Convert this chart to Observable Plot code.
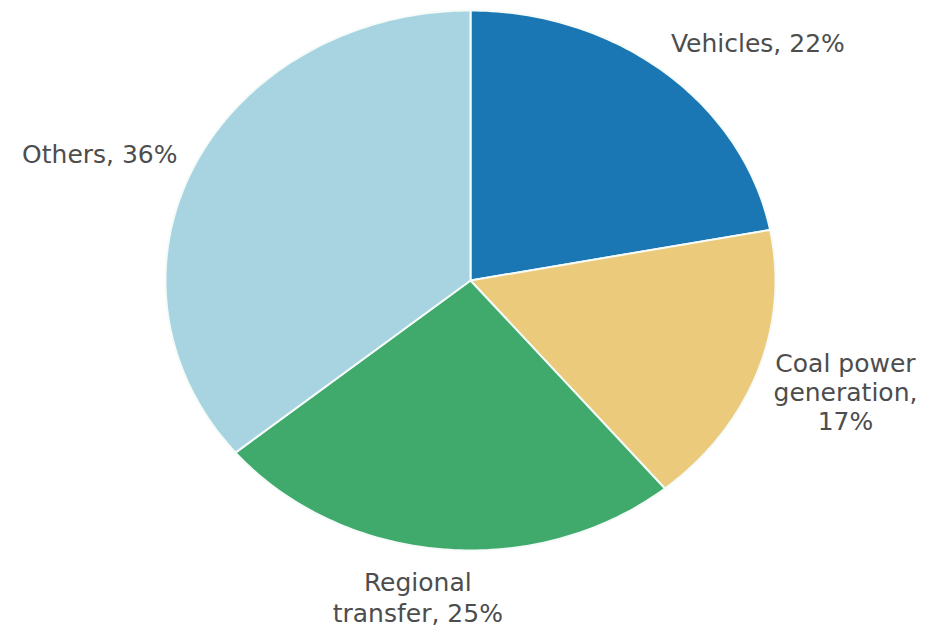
<!DOCTYPE html>
<html>
<head>
<meta charset="utf-8">
<script src="https://cdn.jsdelivr.net/npm/d3@7"></script>
<script src="https://cdn.jsdelivr.net/npm/@observablehq/plot@0.6"></script>
<style>
  html, body { margin: 0; padding: 0; background: #ffffff; }
  #chart { width: 925px; height: 630px; }
</style>
</head>
<body>
<div id="chart"></div>
<script>
// ---- Data ----
const categories = ["Vehicles", "Coal power generation", "Regional transfer", "Others"];
const shares = [22, 17, 25, 36];
const labels = ["Vehicles, 22%", "Coal power\ngeneration,\n17%", "Regional\ntransfer, 25%", "Others, 36%"];
const colors = ["#1b77b3", "#ecca7c", "#40a96c", "#a8d4e2"];

// ---- Geometry from data (angles clockwise from 12 o'clock) ----
const total = d3.sum(shares);
let acc = 0;
const slices = categories.map((name, i) => {
  const a0 = acc / total * 2 * Math.PI;
  acc += shares[i];
  const a1 = acc / total * 2 * Math.PI;
  return {name, a0, a1, mid: (a0 + a1) / 2, label: labels[i], color: colors[i]};
});

const outline = [];
for (const s of slices) {
  outline.push({name: s.name, x: 0, y: 0});
  const n = Math.max(2, Math.ceil((s.a1 - s.a0) / (Math.PI / 180)));
  for (let k = 0; k <= n; k++) {
    const a = s.a0 + (s.a1 - s.a0) * k / n;
    outline.push({name: s.name, x: Math.sin(a), y: Math.cos(a)});
  }
}

// label layout (pixel nudges from the slice's outer mid point)
const labelLayout = {
  "Vehicles":              {anchor: "start",  dx: 6,   dy: -30, lh: 1.2},
  "Coal power generation": {anchor: "middle", dx: 88,  dy: 20,  lh: 1.16},
  "Regional transfer":     {anchor: "middle", dx: -24, dy: 47,  lh: 1.24},
  "Others":                {anchor: "end",    dx: -17, dy: -12, lh: 1.2}
};

const textMarks = slices.map(s => {
  const L = labelLayout[s.name];
  return Plot.text([s], {
    x: d => Math.sin(d.mid),
    y: d => Math.cos(d.mid),
    text: "label",
    textAnchor: L.anchor,
    lineAnchor: "middle",
    lineHeight: L.lh,
    dx: L.dx,
    dy: L.dy,
    fontSize: 25,
    fontFamily: "DejaVu Sans",
    fill: "#4d4d4d"
  });
});

const chart = Plot.plot({
  width: 925,
  height: 630,
  marginLeft: 165,
  marginRight: 150,
  marginTop: 10,
  marginBottom: 80,
  x: {domain: [-1, 1], axis: null},
  y: {domain: [-1, 1], axis: null},
  color: {domain: categories, range: colors},
  style: {background: "#ffffff", fontFamily: "DejaVu Sans", overflow: "visible"},
  marks: [
    Plot.line(outline, {
      x: "x", y: "y", z: "name",
      fill: "name",
      stroke: "#f4fbf8",
      strokeWidth: 2,
      curve: "linear-closed"
    }),
    ...textMarks
  ]
});
document.getElementById("chart").appendChild(chart);
</script>
</body>
</html>
